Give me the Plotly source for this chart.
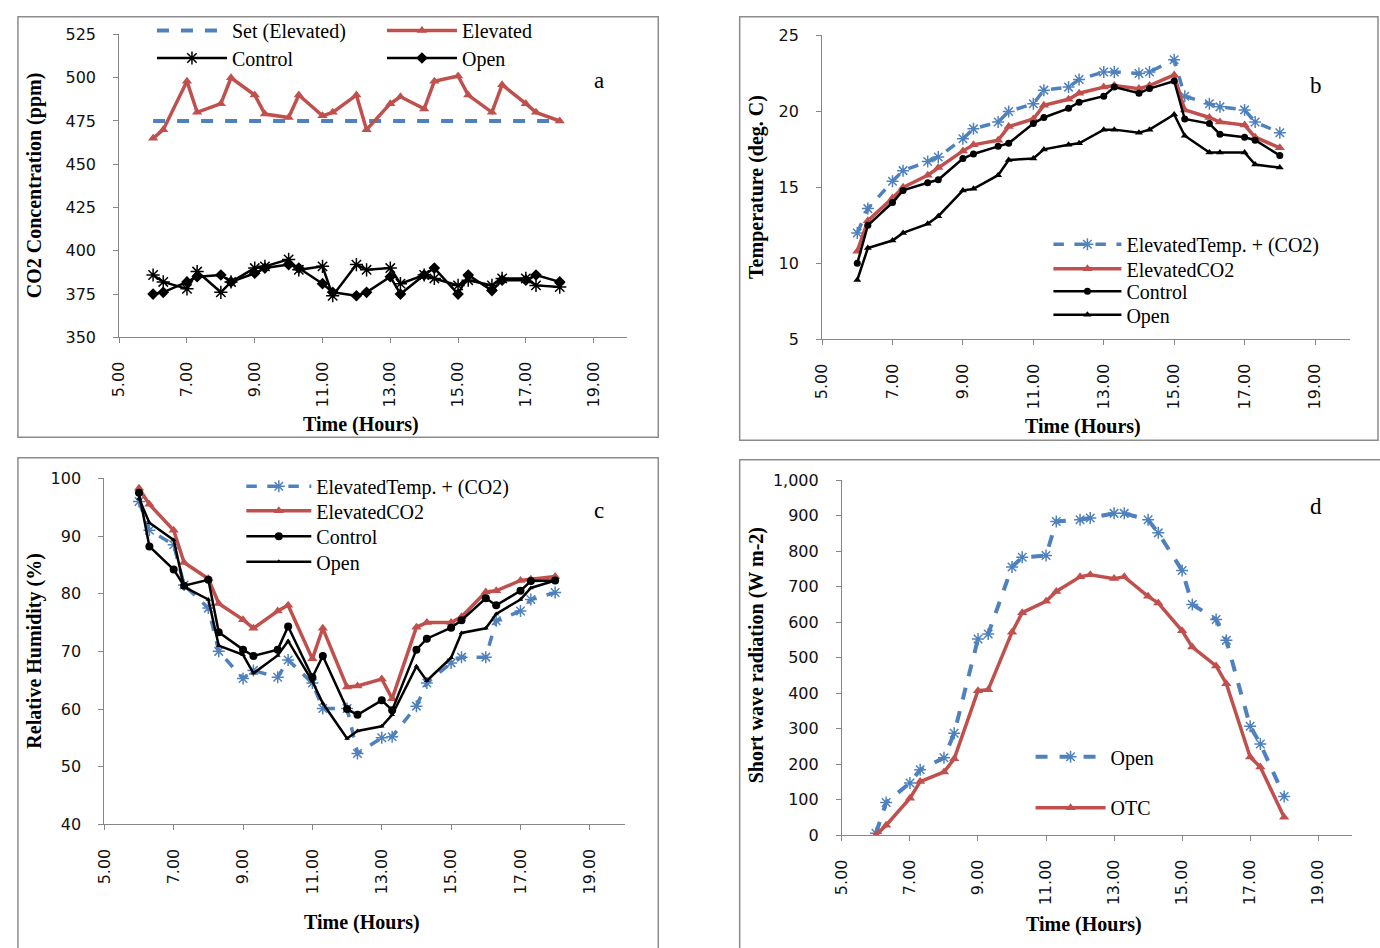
import plotly.graph_objects as go

W, H = 1380, 948

# ---------------- data ----------------
times = [6.0, 6.3, 7.0, 7.3, 8.0, 8.3, 9.0, 9.3, 10.0, 10.3, 11.0, 11.3, 12.0,
         12.3, 13.0, 13.3, 14.0, 14.3, 15.0, 15.3, 16.0, 16.3, 17.0, 17.3, 18.0]
x_tickvals = [5, 7, 9, 11, 13, 15, 17, 19]
x_ticktext = ["5.00", "7.00", "9.00", "11.00", "13.00", "15.00", "17.00", "19.00"]

# (a) CO2 concentration (ppm)
co2_set = [475, 475, 475, 475, 475, 475, 475, 475, 475, 475, 475, 475, 475,
           475, 475, 475, 475, 475, 475, 475, 475, 475, 475, 475, 475]
co2_elevated = [465, 470, 498, 480, 485, 500, 490, 479, 477, 490, 478, 480, 490,
                470, 485, 489, 482, 498, 501, 490, 480, 496, 485, 480, 475]
co2_control = [386, 382, 378, 388, 376, 382, 390, 391, 395, 389, 391, 374, 392,
               389, 390, 381, 386, 384, 380, 383, 380, 384, 384, 380, 379]
co2_open = [375, 376, 382, 385, 386, 382, 387, 390, 392, 390, 381, 376, 374,
            376, 385, 375, 386, 390, 375, 386, 377, 383, 383, 386, 382]

# (b) Temperature (deg. C)
temp_etc = [12.0, 13.6, 15.4, 16.1, 16.7, 17.0, 18.2, 18.85, 19.3, 20.0, 20.5, 21.4, 21.6,
            22.1, 22.6, 22.6, 22.5, 22.6, 23.4, 21.0, 20.5, 20.3, 20.1, 19.3, 18.6]
temp_eco2 = [10.8, 12.8, 14.3, 15.0, 15.8, 16.3, 17.4, 17.8, 18.1, 19.0, 19.5, 20.4, 20.8,
             21.2, 21.6, 21.7, 21.5, 21.7, 22.4, 20.1, 19.6, 19.3, 19.1, 18.3, 17.6]
temp_control = [10.0, 12.5, 14.0, 14.8, 15.3, 15.5, 16.9, 17.2, 17.7, 17.9, 19.2, 19.6, 20.2,
                20.6, 21.0, 21.6, 21.2, 21.5, 22.0, 19.5, 19.2, 18.5, 18.3, 18.1, 17.1]
temp_open = [8.9, 11.0, 11.5, 12.0, 12.6, 13.1, 14.8, 14.9, 15.8, 16.8, 16.9, 17.5, 17.8,
             17.9, 18.8, 18.8, 18.6, 18.8, 19.8, 18.4, 17.3, 17.3, 17.3, 16.5, 16.3]

# (c) Relative humidity (%)
rh_etc = [96, 91, 88.5, 81.5, 77.5, 70, 65.3, 66.7, 65.5, 68.5, 64.5, 60.1, 60.1,
          52.3, 55, 55.2, 60.5, 64.5, 68, 69, 69, 75.3, 77, 79, 80.2]
rh_eco2 = [98.3, 95.5, 91, 85.4, 82.6, 78.3, 75.5, 74, 77, 78, 68.7, 74, 63.8,
           64, 65.2, 61.8, 74.2, 75, 75, 76, 80.3, 80.5, 82.3, 82.5, 83]
rh_control = [97.5, 88.2, 84.2, 81.4, 82.4, 73.3, 70.3, 69.2, 70.3, 74.3, 65.5, 69.2, 60,
              59, 61.5, 59.8, 70.3, 72.2, 74.1, 75.4, 79.2, 78, 80.5, 82.2, 82.3]
rh_open = [96.5, 92.3, 89.3, 81.2, 79, 71, 69.4, 66.2, 69.3, 71.8, 64.8, 61, 54.9,
           56.2, 57, 59, 67.4, 64.9, 68.9, 73.2, 74, 76.5, 79, 81, 82.3]

# (d) Short wave radiation (W m-2)
sw_open = [5, 92, 147, 184, 218, 287, 553, 567, 756, 783, 788, 884, 889,
           894, 907, 907, 889, 852, 746, 650, 608, 549, 307, 257, 109]
sw_otc = [0, 28, 104, 151, 178, 215, 407, 410, 572, 627, 659, 687, 728,
          734, 723, 728, 673, 654, 576, 530, 477, 427, 220, 192, 50]

# ---------------- style ----------------
BLUE = "#4F81BD"
RED = "#C0504D"
BLACK = "#000000"
AXIS = "#868686"
SERIF = "Liberation Serif"
SANS = "DejaVu Sans"


def px(x):
    return x / W


def py(y):
    return 1 - y / H


fig = go.Figure()


def blue_trace(x, y, name, xa, ya, leg, width=3.5):
    return go.Scatter(x=x, y=y, name=name, xaxis=xa, yaxis=ya, legend=leg,
                      mode="lines+markers",
                      line=dict(color=BLUE, width=width, dash="dash"),
                      marker=dict(symbol="asterisk-open", size=10,
                                  color=BLUE, line=dict(color=BLUE, width=1.5)))


def red_trace(x, y, name, xa, ya, leg):
    return go.Scatter(x=x, y=y, name=name, xaxis=xa, yaxis=ya, legend=leg,
                      mode="lines+markers",
                      line=dict(color=RED, width=3.5),
                      marker=dict(symbol="triangle-up", size=9, color=RED))


def black_trace(x, y, name, xa, ya, leg, symbol, size=7, mline=0):
    return go.Scatter(x=x, y=y, name=name, xaxis=xa, yaxis=ya, legend=leg,
                      mode="lines+markers",
                      line=dict(color=BLACK, width=2.5),
                      marker=dict(symbol=symbol, size=size, color=BLACK,
                                  line=dict(color=BLACK, width=mline)))


# panel a
fig.add_trace(go.Scatter(x=times, y=co2_set, name="Set (Elevated)", xaxis="x", yaxis="y",
                         legend="legend", mode="lines",
                         line=dict(color=BLUE, width=4, dash="dash")))
fig.add_trace(red_trace(times, co2_elevated, "Elevated", "x", "y", "legend"))
fig.add_trace(black_trace(times, co2_control, "Control", "x", "y", "legend2",
                          "asterisk-open", size=11, mline=1.5))
fig.add_trace(black_trace(times, co2_open, "Open", "x", "y", "legend2", "diamond", size=9))

# panel b
fig.add_trace(blue_trace(times, temp_etc, "ElevatedTemp. + (CO2)", "x2", "y2", "legend3"))
fig.add_trace(red_trace(times, temp_eco2, "ElevatedCO2", "x2", "y2", "legend4"))
fig.add_trace(black_trace(times, temp_control, "Control", "x2", "y2", "legend5", "circle", 7))
fig.add_trace(black_trace(times, temp_open, "Open", "x2", "y2", "legend6", "triangle-up", 7))

# panel c
fig.add_trace(blue_trace(times, rh_etc, "ElevatedTemp. + (CO2)", "x3", "y3", "legend7"))
fig.add_trace(red_trace(times, rh_eco2, "ElevatedCO2", "x3", "y3", "legend8"))
fig.add_trace(black_trace(times, rh_control, "Control", "x3", "y3", "legend9", "circle", 8))
fig.add_trace(black_trace(times, rh_open, "Open", "x3", "y3", "legend10", "triangle-up", 5))

# panel d
fig.add_trace(blue_trace(times, sw_open, "Open", "x4", "y4", "legend11", width=4))
fig.add_trace(red_trace(times, sw_otc, "OTC", "x4", "y4", "legend12"))

# ---------------- axes ----------------
tickfont = dict(family=SANS, size=16, color="#111111")


def xaxis(domain, anchor):
    return dict(domain=domain, anchor=anchor, range=[5, 20], tickvals=x_tickvals,
                ticktext=x_ticktext, tickangle=-90, showgrid=False, zeroline=False,
                showline=True, linecolor=AXIS, linewidth=1, ticks="outside",
                tickcolor=AXIS, ticklen=5, tickfont=tickfont, ticklabelstandoff=12)


def yaxis(domain, anchor, rng, dtick, fmt=None):
    d = dict(domain=domain, anchor=anchor, range=rng, dtick=dtick, tick0=rng[0],
             showgrid=False, zeroline=False, showline=True, linecolor=AXIS,
             linewidth=1, ticks="outside", tickcolor=AXIS, ticklen=5,
             tickfont=tickfont, ticklabelstandoff=14)
    if fmt:
        d["tickformat"] = fmt
    return d


fig.update_layout(
    xaxis=xaxis([px(110), px(622)], "y"),
    yaxis=yaxis([py(335), py(26)], "x", [350, 525], 25),
    xaxis2=xaxis([px(818), px(1350)], "y2"),
    yaxis2=yaxis([py(337), py(27)], "x2", [5, 25], 5),
    xaxis3=xaxis([px(95), px(619)], "y3"),
    yaxis3=yaxis([py(832), py(479)], "x3", [40, 100], 10),
    xaxis4=xaxis([px(838), px(1352)], "y4"),
    yaxis4=yaxis([py(843), py(481)], "x4", [0, 1000], 100, ","),
)

# ---------------- legends (one per row) ----------------
legfont = dict(family=SERIF, size=20, color="black")


def leg(x_line_start, y_center, itemwidth, horizontal=False, entrywidth=None):
    d = dict(x=px(x_line_start - 7), y=py(y_center), xanchor="left", yanchor="middle",
             xref="paper", yref="paper", bgcolor="rgba(0,0,0,0)", font=legfont,
             itemwidth=itemwidth, tracegroupgap=0)
    if horizontal:
        d["orientation"] = "h"
        d["entrywidth"] = entrywidth
    return d


fig.update_layout(
    legend=leg(150, 22, 70, True, 145),
    legend2=leg(150, 50, 70, True, 145),
    legend3=leg(1053, 240, 68),
    legend4=leg(1053, 265, 68),
    legend5=leg(1053, 288, 68),
    legend6=leg(1053, 312, 68),
    legend7=leg(240, 487, 65),
    legend8=leg(240, 512, 65),
    legend9=leg(240, 538, 65),
    legend10=leg(240, 564, 65),
    legend11=leg(1035, 763, 70),
    legend12=leg(1035, 815, 70),
)

# ---------------- panel frames ----------------
shapes = []
for (x0, y0, x1, y1) in [(8, 8, 653, 437), (735, 8, 1378, 440),
                         (8, 458, 653, 960), (735, 460, 1392, 960)]:
    shapes.append(dict(type="rect", xref="paper", yref="paper",
                       x0=px(x0), x1=px(x1), y0=py(y1), y1=py(y0),
                       line=dict(color="#8c8c8c", width=1.5), fillcolor="rgba(0,0,0,0)"))
fig.update_layout(shapes=shapes)

# ---------------- annotations ----------------
ann = []
for (txt, x, y) in [("a", 593, 73), ("b", 1316, 78), ("c", 593, 512), ("d", 1316, 508)]:
    ann.append(dict(text=txt, x=px(x), y=py(y), xref="paper", yref="paper",
                    showarrow=False, font=dict(family=SERIF, size=23, color="black"),
                    xanchor="center", yanchor="middle"))
for (x, y) in [(354, 424), (1081, 426), (355, 932), (1082, 934)]:
    ann.append(dict(text="<b>Time (Hours)</b>", x=px(x), y=py(y), xref="paper",
                    yref="paper", showarrow=False,
                    font=dict(family=SERIF, size=20, color="black"),
                    xanchor="center", yanchor="middle"))
for (txt, x, y) in [("CO2 Concentration (ppm)", 25, 180),
                    ("Temperature (deg. C)", 752, 182),
                    ("Relative Humidity (%)", 25, 655),
                    ("Short wave radiation (W m-2)", 752, 660)]:
    ann.append(dict(text="<b>" + txt + "</b>", x=px(x), y=py(y), xref="paper",
                    yref="paper", showarrow=False, textangle=-90,
                    font=dict(family=SERIF, size=20, color="black"),
                    xanchor="center", yanchor="middle"))
fig.update_layout(annotations=ann)

fig.update_layout(width=W, height=H, margin=dict(l=0, r=0, t=0, b=0),
                  paper_bgcolor="white", plot_bgcolor="white", showlegend=True,
                  hovermode=False, font=dict(family=SERIF))

fig.write_html("out.html",
               config={"displayModeBar": False},
               post_script="document.body.style.margin='0px';"
                           "document.body.style.overflow='hidden';")
